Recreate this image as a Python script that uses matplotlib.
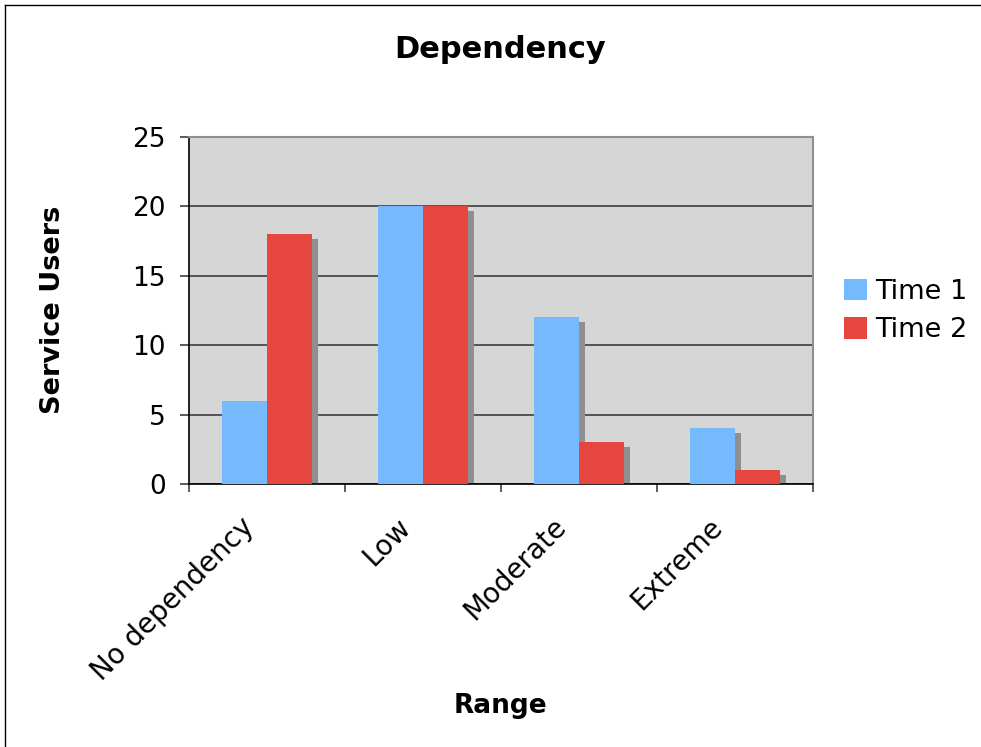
import matplotlib
matplotlib.use("Agg")
import matplotlib.pyplot as plt
import matplotlib.transforms as mtransforms
import numpy as np
from matplotlib.lines import Line2D

categories = ["No dependency", "Low", "Moderate", "Extreme"]
series_names = ["Time 1", "Time 2"]
time1 = [6, 20, 12, 4]
time2 = [18, 20, 3, 1]
yticks = [0, 5, 10, 15, 20, 25]

c1 = "#75b9ff"
c2 = "#e54640"
shadow = "#8f8f8f"

fig = plt.figure(figsize=(9.81, 7.47), dpi=100)
fig.patch.set_facecolor("white")
ax = fig.add_axes([189/981, 1-484/747, 624/981, 347/747])
ax.set_facecolor("#d6d6d6")

x = np.arange(len(categories))
w = 0.29
dx = 0.04
dy = 0.36
vals = [time1, time2]
cols = [c1, c2]
offs = [-w/2, w/2]
# shadows
for v, o in zip(vals, offs):
    ax.bar(x + o + dx, np.array(v) - dy, width=w, color=shadow, zorder=2, linewidth=0)
for v, o, c, n in zip(vals, offs, cols, series_names):
    ax.bar(x + o, v, width=w, color=c, zorder=3, linewidth=0, label=n)

ax.set_xlim(-0.5, len(categories) - 0.5)
ax.set_ylim(0, 25)
ax.set_yticks(yticks)
ax.set_yticklabels([str(t) for t in yticks], fontsize=19)
ax.yaxis.grid(True, color="#4a4a4a", linewidth=1.3, zorder=1)
ax.set_axisbelow(True)

# category labels at centers, ticks at boundaries
ax.set_xticks(x)
ax.set_xticklabels(categories, rotation=45, ha="right", rotation_mode="anchor", fontsize=20)
ax.tick_params(axis="x", which="major", length=0, pad=12)
ax.set_xticks(np.arange(-0.5, len(categories)), minor=True)
ax.tick_params(axis="x", which="minor", length=6, width=1.2, color="#404040", direction="out")
ax.tick_params(axis="y", length=6.5, width=1.2, color="#404040", direction="out", pad=10)
offset = mtransforms.ScaledTranslation(-27/100, -12/100, fig.dpi_scale_trans)
for lbl in ax.get_xticklabels():
    lbl.set_transform(lbl.get_transform() + offset)

for s in ["left", "bottom"]:
    ax.spines[s].set_color("black")
    ax.spines[s].set_linewidth(1.2)
for s in ["top", "right"]:
    ax.spines[s].set_color("#8f8f8f")
    ax.spines[s].set_linewidth(1.5)

fig.text(500/981, 1-50/747, "Dependency", ha="center", va="center", fontsize=22, fontweight="bold")
fig.text(53/981, 1-310/747, "Service Users", ha="center", va="center", rotation=90, fontsize=19.5, fontweight="bold")
fig.text(500/981, 1-706/747, "Range", ha="center", va="center", fontsize=19, fontweight="bold")

leg = ax.legend(loc="center left", bbox_to_anchor=(844/981, 1-311/747), bbox_transform=fig.transFigure,
                frameon=False, fontsize=19.5, handlelength=0.85, handleheight=0.85,
                handletextpad=0.3, labelspacing=0.45, borderaxespad=0, borderpad=0)

# figure border
fig.add_artist(Line2D([4.5/981, 4.5/981], [0, 1-5/747], transform=fig.transFigure, color="black", linewidth=1))
fig.add_artist(Line2D([4.5/981, 1], [1-5/747, 1-5/747], transform=fig.transFigure, color="black", linewidth=1))

fig.savefig("out.png", dpi=100)
